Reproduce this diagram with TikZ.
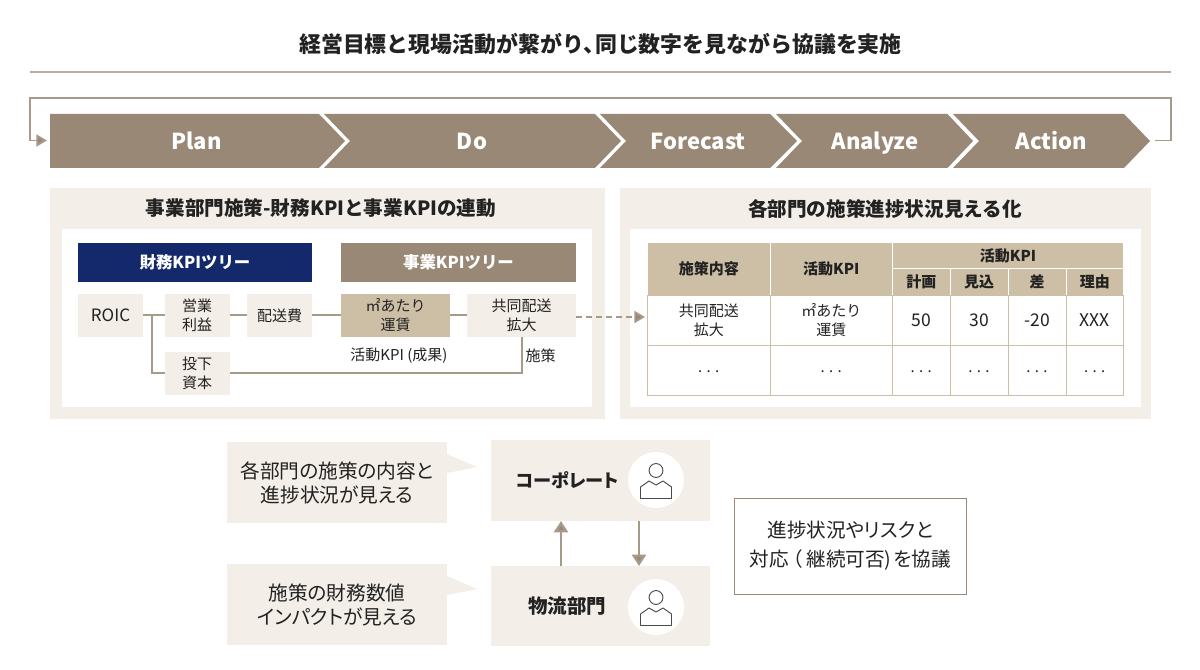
\documentclass[tikz,border=0pt]{standalone}
\usepackage{fontspec}
\setmainfont{Noto Sans CJK JP}
\usetikzlibrary{arrows.meta}
\definecolor{brownc}{HTML}{998875}
\definecolor{panelc}{HTML}{F3EEE7}
\definecolor{tanc}{HTML}{CDBFA6}
\definecolor{navyc}{HTML}{13296B}
\definecolor{linec}{HTML}{A89A88}
\definecolor{inkc}{HTML}{222222}
\definecolor{iconc}{HTML}{4A4A4A}
% size in px (1px = 0.75pt)
\newcommand{\pxf}[2]{\pgfmathsetmacro{\fa}{#1*0.75}\pgfmathsetmacro{\fb}{#2*0.75}\fontsize{\fa pt}{\fb pt}\selectfont}
\newcommand{\prop}{\addfontfeature{RawFeature=+palt}}
\newcommand{\dts}{\raisebox{-2.5pt}{.\kern3.2pt.\kern3.2pt.}}
% \bx{name}{x0}{y0}{x1}{y1}{style}{text}
\newcommand{\bx}[7]{%
  \pgfmathsetmacro{\bw}{(#4-#2)*0.75}\pgfmathsetmacro{\bh}{(#5-#3)*0.75}%
  \pgfmathsetmacro{\cx}{(#2+#4)/2}\pgfmathsetmacro{\cy}{(#3+#5)/2}%
  \node[cell,minimum width=\bw pt,minimum height=\bh pt,#6] (#1) at (\cx,\cy) {#7};}
\newcommand{\person}[2]{%
  \node[circle,fill=white,minimum size=42pt,inner sep=0pt] (#1) at (#2) {};
  \begin{scope}[shift={(#2)},draw=iconc,line width=0.7pt]
    \draw (0,-9.5) circle[radius=5.2pt];
    \draw[line join=round] (-15.5,18.5) -- (-15.5,7) -- (-7,1) -- (0,5) -- (7,1) -- (15.5,7) -- (15.5,18.5) -- cycle;
  \end{scope}}
\tikzset{
  cell/.style={inner sep=0pt,outer sep=0pt,align=center,text=inkc,font=\pxf{15}{19}},
  soft/.style={fill=panelc},
  panel/.style={fill=panelc},
  inner/.style={fill=white},
  hdr/.style={fill=tanc,draw=white,line width=0.7pt,font=\pxf{15}{19}\bfseries},
  row/.style={fill=white,draw=tanc,line width=0.7pt},
  bignum/.style={font=\pxf{17.5}{19}},
  stage/.style={fill=brownc},
  stagetext/.style={text=white,font=\pxf{22}{28}\bfseries,inner sep=0pt,anchor=base},
  heading/.style={text=inkc,font=\pxf{19.6}{24}\bfseries,inner sep=0pt},
  treetitle/.style={text=white,font=\pxf{16.4}{19}\bfseries},
  link/.style={draw=linec,line width=1.5pt},
  flow/.style={draw=linec,line width=1.8pt,-{Triangle[width=10.5pt,length=8.5pt,fill=brownc]}},
  thin arrow/.style={draw=linec,line width=1.4pt,-{Triangle[width=9pt,length=8pt,fill=brownc]}},
  note/.style={font=\pxf{19.7}{24}\prop},
  who/.style={text=inkc,font=\pxf{19.5}{24}\bfseries\prop,inner sep=0pt},
  small/.style={text=inkc,font=\pxf{15}{19},inner sep=0pt}
}
\begin{document}
\begin{tikzpicture}[x=0.75pt,y=-0.75pt]
\useasboundingbox (0,0) rectangle (1200,670);
% title
\node[text=inkc,font=\pxf{21.9}{26}\bfseries,inner sep=0pt] (title) at (600.5,44) {経営目標と現場活動が繋がり、\kern-.45em 同じ数字を見ながら協議を実施};
\coordinate (ruleL) at (30,72); \coordinate (ruleR) at (1171,72);
\draw[draw=linec!80,line width=0.8pt] (ruleL) -- (ruleR);
% chevrons
\fill[stage] (50,114) -- (319,114) -- (345,141) -- (319,168) -- (50,168) -- cycle;
\fill[stage] (324,114) -- (595,114) -- (621,141) -- (595,168) -- (324,168) -- (350,141) -- cycle;
\fill[stage] (600,114) -- (770,114) -- (797,141) -- (770,168) -- (600,168) -- (626,141) -- cycle;
\fill[stage] (776,114) -- (947.5,114) -- (973,141) -- (947.5,168) -- (776,168) -- (802,141) -- cycle;
\fill[stage] (953,114) -- (1124,114) -- (1150,141) -- (1124,168) -- (953,168) -- (979,141) -- cycle;
\node[stagetext] (plan) at (196.5,149.5) {Plan};
\node[stagetext] (do) at (472,149.5) {Do};
\node[stagetext] (forecast) at (698,149.5) {Forecast};
\node[stagetext] (analyze) at (875,149.5) {Analyze};
\node[stagetext] (action) at (1051.5,149.5) {Action};
% loop
\coordinate (loopS) at (1155,140.5); \coordinate (loopE) at (47,140.5);
\coordinate (loopA) at (1171,98); \coordinate (loopB) at (30,98);
\draw[thin arrow,line join=miter] (loopS) -| (loopA) -- (loopB) |- (loopE);
% left panel
\bx{pL}{50}{188}{605}{418.5}{panel}{}
\bx{wL}{62}{229}{592}{406.5}{inner}{}
\node[heading] (hL) at (321,208.5) {事業部門施策-財務KPIと事業KPIの連動};
\bx{fin}{78}{243}{312}{282}{fill=navyc,treetitle}{財務KPIツリー}
\bx{biz}{341}{243}{576}{282}{fill=brownc,treetitle}{事業KPIツリー}
\bx{roic}{78}{294}{143}{337}{soft,font=\pxf{17}{19}}{ROIC}
\bx{eigyo}{164.5}{294}{229.5}{337}{soft}{営業\\利益}
\bx{haiso}{247}{294}{312}{337}{soft}{配送費}
\bx{unchin}{341}{294}{450}{337}{fill=tanc}{㎡あたり\\運賃}
\bx{kyodo}{467}{294}{576}{337}{soft}{共同配送\\拡大}
\bx{toka}{164.5}{352}{229.5}{395}{soft}{投下\\資本}
\coordinate (branch) at (152,315.5);
\draw[link] (roic) -- (eigyo);
\draw[link] (eigyo) -- (haiso);
\draw[link] (haiso) -- (unchin);
\draw[link] (unchin) -- (kyodo);
\draw[link] (branch) |- (toka);
\draw[link] (toka) -| (kyodo);
\node[small] (kpiL) at (399,356) {活動KPI (成果)};
\node[small] (shiL) at (540.5,356) {施策};
% right panel
\bx{pR}{620}{188}{1150.5}{418.5}{panel}{}
\bx{wR}{630}{229}{1141}{406.5}{inner}{}
\node[heading] (hR) at (885,208.5) {各部門の施策進捗状況見える化};
\bx{h1}{647.5}{242.5}{770}{295}{hdr}{施策内容}
\bx{h2}{770}{242.5}{892.5}{295}{hdr}{活動KPI}
\bx{h3}{892.5}{242.5}{1123.5}{268.5}{hdr}{活動KPI}
\bx{h31}{892.5}{268.5}{950}{295}{hdr}{計画}
\bx{h32}{950}{268.5}{1008}{295}{hdr}{見込}
\bx{h33}{1008}{268.5}{1066}{295}{hdr}{差}
\bx{h34}{1066}{268.5}{1123.5}{295}{hdr}{理由}
\bx{a1}{647.5}{295}{770}{345.5}{row}{共同配送\\拡大}
\bx{a2}{770}{295}{892.5}{345.5}{row}{㎡あたり\\運賃}
\bx{a3}{892.5}{295}{950}{345.5}{row,bignum}{50}
\bx{a4}{950}{295}{1008}{345.5}{row,bignum}{30}
\bx{a5}{1008}{295}{1066}{345.5}{row,bignum}{-20}
\bx{a6}{1066}{295}{1123.5}{345.5}{row,bignum}{XXX}
\bx{b1}{647.5}{345.5}{770}{395.5}{row}{\dts}
\bx{b2}{770}{345.5}{892.5}{395.5}{row}{\dts}
\bx{b3}{892.5}{345.5}{950}{395.5}{row}{\dts}
\bx{b4}{950}{345.5}{1008}{395.5}{row}{\dts}
\bx{b5}{1008}{345.5}{1066}{395.5}{row}{\dts}
\bx{b6}{1066}{345.5}{1123.5}{395.5}{row}{\dts}
% dashed link
\coordinate (dashE) at (645,317);
\draw[thin arrow,dash pattern=on 4.5pt off 3pt] (kyodo.east |- dashE) -- (dashE);
% bottom
\fill[panelc] (447,454) -- (477,467) -- (447,473) -- cycle;
\fill[panelc] (447,576) -- (477,589) -- (447,595) -- cycle;
\bx{n1}{227}{442}{447}{523}{soft,note}{各部門の施策の内容と\\進捗状況が見える}
\bx{n2}{227}{564}{447}{645}{soft,note}{施策の財務数値\\インパクトが見える}
\bx{corp}{491}{440}{710}{521}{soft}{}
\bx{log}{491}{566}{710}{646}{soft}{}
\node[who,font=\pxf{18.2}{24}\bfseries\prop] (corpT) at (567.5,480) {コーポレート};
\node[who] (logT) at (567,606) {物流部門};
\person{pc}{656,480}
\person{pl}{656,607}
\coordinate (upS) at (561,566); \coordinate (upE) at (561,523);
\coordinate (dnS) at (639,521); \coordinate (dnE) at (639,564);
\draw[flow] (log.north -| upS) -- (corp.south -| upE);
\draw[flow] (corp.south -| dnS) -- (log.north -| dnE);
\bx{talk}{734}{498}{966.5}{594}{draw=brownc,line width=0.7pt,note,font=\pxf{19.6}{29}\prop}{進捗状況やリスクと\\対応\kern.2em（\kern.2em 継続可否)\kern.1em を協議}
\end{tikzpicture}
\end{document}
